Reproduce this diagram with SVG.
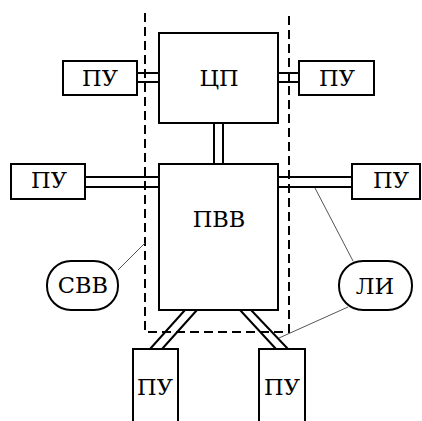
<svg xmlns="http://www.w3.org/2000/svg" width="422" height="421" viewBox="0 0 422 421">
<style>
.box{fill:#fff;stroke:#000;stroke-width:2}
.bus{stroke:#000;stroke-width:2;fill:none}
.dash{stroke:#000;stroke-width:2;fill:none;stroke-dasharray:9 5}
.thin{stroke:#555;stroke-width:1;fill:none}
.t{font-family:"DejaVu Serif","Liberation Serif",serif;font-size:22.5px;fill:#000;text-anchor:middle}
</style>
<rect width="422" height="421" fill="#fff"/>
<g id="boundary">
<path class="dash" d="M145,13 V332 H289 V13"/>
</g>
<g id="connectors">
<path class="bus" d="M137,73 H159 M137,82 H159"/>
<path class="bus" d="M278,73 H299 M278,82 H299"/>
<path class="bus" d="M214,123 V164 M223,123 V164"/>
<path class="bus" d="M85,177 H159 M85,187 H159"/>
<path class="bus" d="M278,177 H352 M278,187 H352"/>
<path class="bus" d="M185,310 L150,349 M197,310 L162,349"/>
<path class="bus" d="M240,310 L276,349 M251,310 L288,349"/>
<path class="thin" d="M118,270 L145,243"/>
<path class="thin" d="M315,188 L353,261"/>
<path class="thin" d="M348,307 L279,338"/>
</g>
<g id="cp"><rect class="box" x="159" y="33" width="119" height="90"/><text class="t" x="219" y="86">ЦП</text></g>
<g id="pvv"><rect class="box" x="159" y="164" width="119" height="146"/><text class="t" x="219" y="227">ПВВ</text></g>
<g id="pu-top-left"><rect class="box" x="63" y="61" width="74" height="34"/><text class="t" x="100" y="86">ПУ</text></g>
<g id="pu-top-right"><rect class="box" x="299" y="61" width="75" height="34"/><text class="t" x="337" y="86">ПУ</text></g>
<g id="pu-mid-left"><rect class="box" x="11" y="164" width="74" height="35"/><text class="t" x="49" y="188">ПУ</text></g>
<g id="pu-mid-right"><rect class="box" x="352" y="164" width="68" height="35"/><text class="t" x="391" y="188">ПУ</text></g>
<g id="pu-bot-left"><path class="box" d="M133,422 V349 H178 V422"/><text class="t" x="155" y="395">ПУ</text></g>
<g id="pu-bot-right"><path class="box" d="M259,422 V349 H305 V422"/><text class="t" x="282" y="395">ПУ</text></g>
<g id="svv"><rect class="box" x="47" y="261" width="71" height="49" rx="24" ry="24"/><text class="t" x="83" y="293">СВВ</text></g>
<g id="li"><rect class="box" x="339" y="261" width="73" height="49" rx="24" ry="24"/><text class="t" x="375" y="294">ЛИ</text></g>
</svg>
